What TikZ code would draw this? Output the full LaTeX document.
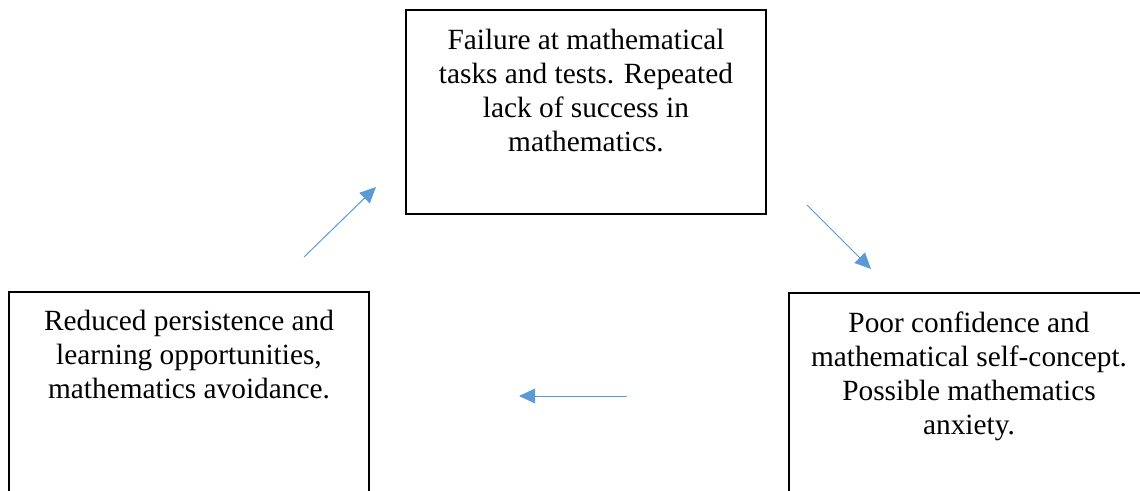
\documentclass[tikz,border=0pt]{standalone}
\usepackage{fontspec}
\setmainfont{Liberation Serif}
\usepackage{xcolor}
\usetikzlibrary{arrows.meta,positioning}

\definecolor{arrowblue}{RGB}{91,155,213}

\tikzset{
	box/.style={draw, line width=1.5, minimum width=270pt, minimum height=153pt, inner sep=0},
	boxtext/.style={anchor=north, inner sep=0, align=center, font=\fontsize{22}{25.5}\selectfont},
	flow/.style={draw=arrowblue, line width=0.75, -{Triangle[length=12pt,width=11pt]}}
}

\begin{document}
\begin{tikzpicture}[x=0.75pt,y=0.75pt,yscale=-1,xscale=1]
	\clip (0,0) rectangle (1140,490);
	
	%Shape: Rectangle [failure]
	\node [box] (fail) at (586,112) {};
	%Shape: Rectangle [confidence]
	\node [box] (conf) at (969,395) {};
	%Shape: Rectangle [avoidance]
	\node [box] (avoid) at (189,394) {};
	
	% Text Node
	\node [boxtext, below=15pt of fail.north] (failtxt) {Failure at mathematical\\tasks and tests. Repeated\\lack of success in\\mathematics.};
	% Text Node
	\node [boxtext, below=15pt of conf.north] (conftxt) {Poor confidence and\\mathematical self-concept.\\Possible mathematics\\anxiety.};
	% Text Node
	\node [boxtext, below=14pt of avoid.north] (avoidtxt) {Reduced persistence and\\learning opportunities,\\mathematics avoidance.};
	
	%Straight Lines
	\coordinate (f1) at (807,205);
	\coordinate (f2) at (871,269);
	\coordinate (c1) at (627,396);
	\coordinate (c2) at (519,396);
	\coordinate (a1) at (304,257);
	\coordinate (a2) at (376,187);
	\draw [flow] (f1) -- (f2);
	\draw [flow] (c1) -- (c2);
	\draw [flow] (a1) -- (a2);
	
\end{tikzpicture}
\end{document}
